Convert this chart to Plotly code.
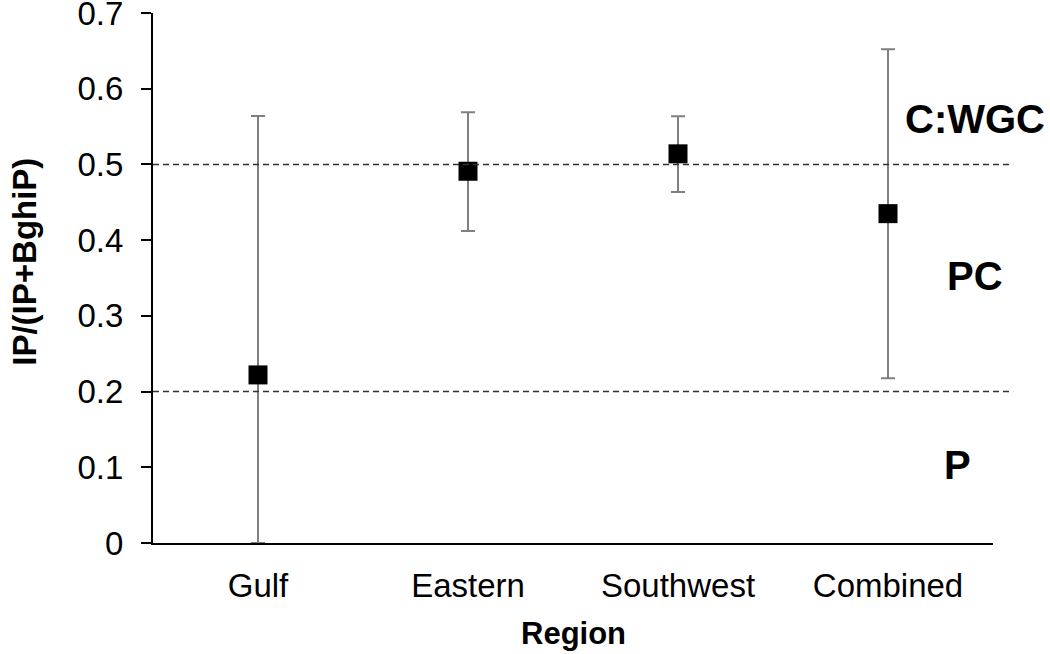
import plotly.graph_objects as go

regions = ["Gulf", "Eastern", "Southwest", "Combined"]
ratio = [0.222, 0.491, 0.514, 0.435]
ratio_low = [0.0, 0.412, 0.4635, 0.2175]
ratio_high = [0.564, 0.569, 0.5635, 0.652]

y_ticks = [0, 0.1, 0.2, 0.3, 0.4, 0.5, 0.6, 0.7]
y_ticktext = ["0", "0.1", "0.2", "0.3", "0.4", "0.5", "0.6", "0.7"]

thresholds = [0.5, 0.2]
zone_labels = ["C:WGC", "PC", "P"]
zone_label_y = [0.5595, 0.352, 0.103]
zone_label_x = [0.9786, 0.9786, 0.958]

FONT = "Liberation Sans, Arial, sans-serif"

err_plus = [h - v for h, v in zip(ratio_high, ratio)]
err_minus = [v - l for v, l in zip(ratio, ratio_low)]

fig = go.Figure()
fig.add_trace(go.Scatter(
    x=regions, y=ratio, mode="markers",
    marker=dict(symbol="square", size=19, color="black"),
    error_y=dict(type="data", symmetric=False, array=err_plus, arrayminus=err_minus,
                 color="#808080", thickness=2, width=7),
    cliponaxis=False, showlegend=False,
))

for t in thresholds:
    fig.add_shape(type="line", xref="paper", yref="y", x0=0, x1=1.024, y0=t, y1=t,
                  line=dict(color="#333333", width=1.5, dash="6px,4px"))

for txt, xx, yy in zip(zone_labels, zone_label_x, zone_label_y):
    fig.add_annotation(text=txt, xref="paper", yref="y", x=xx, y=yy, showarrow=False,
                       font=dict(family=FONT, size=40, color="black", weight="bold"),
                       xanchor="center", yanchor="middle")

fig.add_annotation(text="IP/(IP+BghiP)", xref="paper", yref="paper", x=-0.154, y=0.53,
                   textangle=-90, showarrow=False, xanchor="center", yanchor="middle",
                   font=dict(family=FONT, size=33, color="black", weight="bold"))
fig.add_annotation(text="Region", xref="paper", yref="paper", x=0.5, y=-0.17,
                   showarrow=False, xanchor="center", yanchor="middle",
                   font=dict(family=FONT, size=31, color="black", weight="bold"))

fig.update_layout(
    width=1050, height=654,
    margin=dict(l=153, r=57, t=13, b=111, autoexpand=False),
    paper_bgcolor="white", plot_bgcolor="white",
    font=dict(family=FONT, size=32, color="black"),
    xaxis=dict(type="category", range=[-0.5, 3.5], showline=True, linecolor="black",
               linewidth=2, ticks="", showgrid=False, zeroline=False, automargin=False,
               ticklabelstandoff=12, tickfont=dict(size=33)),
    yaxis=dict(range=[0, 0.70002], tickvals=y_ticks, ticktext=y_ticktext, showline=True,
               linecolor="black", linewidth=2, ticks="outside", ticklen=10, tickwidth=2,
               tickcolor="black", showgrid=False, zeroline=False, automargin=False,
               ticklabeloverflow="allow",
               ticklabelstandoff=11, tickfont=dict(size=33)),
)

fig.write_html("out.html", config={"displayModeBar": False},
               post_script="document.body.style.margin='0';document.body.style.overflow='hidden';")
